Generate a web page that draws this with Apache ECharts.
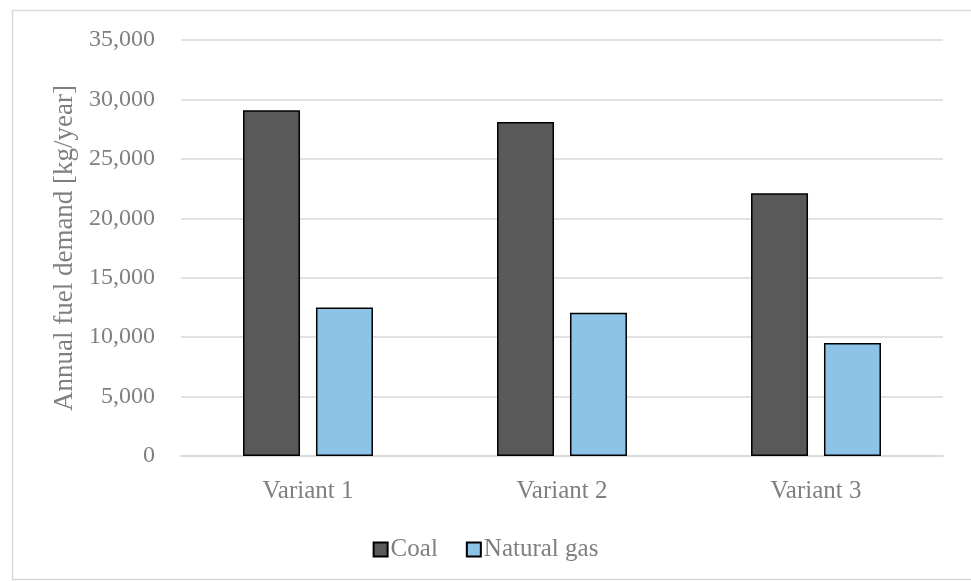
<!DOCTYPE html>
<html>
<head>
<meta charset="utf-8">
<script src="https://cdn.jsdelivr.net/npm/echarts@6/dist/echarts.min.js"></script>
<style>
html,body{margin:0;padding:0;background:#fff;}
#chart{width:971px;height:581px;}
</style>
</head>
<body>
<div id="chart"></div>
<script>
var categories = ['Variant 1', 'Variant 2', 'Variant 3'];
var coal = [29100, 28100, 22100];
var naturalGas = [12500, 12050, 9500];
var yTicks = {min: 0, max: 35000, interval: 5000};
var yTitle = 'Annual fuel demand [kg/year]';

var FONT = '"Liberation Serif", "Times New Roman", serif';
var TXT = '#7f7f7f';
var chart = echarts.init(document.getElementById('chart'));
chart.setOption({
  animation: false,
  backgroundColor: '#ffffff',
  graphic: [{
    type: 'rect', silent: true,
    shape: {x: 12.5, y: 10.5, width: 975, height: 569},
    style: {fill: 'none', stroke: '#d9d9d9', lineWidth: 1.5}
  }],
  grid: {left: 181, right: 28, top: 40, bottom: 125},
  legend: {
    bottom: 14, left: 'center',
    itemWidth: 14, itemHeight: 14, itemGap: 28,
    icon: 'rect',
    textStyle: {fontFamily: FONT, fontSize: 25, color: TXT, padding: [0, 0, 0, -2]},
    data: ['Coal', 'Natural gas']
  },
  xAxis: {
    type: 'category', data: categories,
    axisLine: {show: true, lineStyle: {color: '#d9d9d9', width: 1.5}},
    axisTick: {show: false},
    axisLabel: {fontFamily: FONT, fontSize: 25, color: TXT, margin: 23}
  },
  yAxis: {
    type: 'value', min: yTicks.min, max: yTicks.max, interval: yTicks.interval,
    name: yTitle, nameLocation: 'middle', nameGap: 98,
    nameTextStyle: {fontFamily: FONT, fontSize: 27, color: TXT},
    axisLine: {show: false}, axisTick: {show: false},
    splitLine: {lineStyle: {color: '#d9d9d9', width: 1.5}},
    axisLabel: {
      fontFamily: FONT, fontSize: 24, color: TXT, margin: 26,
      formatter: function (v) { return v.toLocaleString('en-US'); }
    }
  },
  series: [{
    name: 'Coal', type: 'bar', data: coal,
    barWidth: 57, barGap: '28%',
    itemStyle: {color: '#595959', borderColor: '#000000', borderWidth: 1.5}
  }, {
    name: 'Natural gas', type: 'bar', data: naturalGas,
    barWidth: 57,
    itemStyle: {color: '#8cc3e6', borderColor: '#000000', borderWidth: 1.5}
  }]
});
</script>
</body>
</html>
